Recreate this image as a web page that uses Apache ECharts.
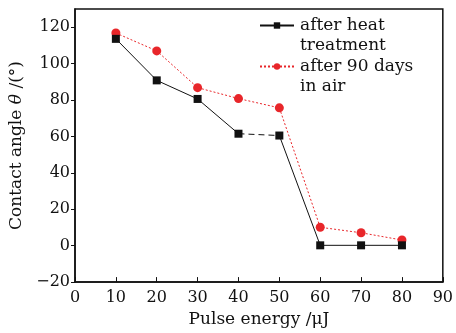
<!DOCTYPE html>
<html>
<head>
<meta charset="utf-8">
<script src="https://cdn.jsdelivr.net/npm/echarts@6/dist/echarts.min.js"></script>
<style>
  html, body { margin: 0; padding: 0; background: #fff; }
  #main { width: 456px; height: 333px; }
</style>
</head>
<body>
<div id="main"></div>
<script>
// pulse energy (μJ) and contact angles
const energy = [10, 20, 30, 40, 50, 60, 70, 80];
const heatTreatment = [113.6, 90.8, 80.6, 61.5, 60.5, 0.2, 0.2, 0.2];
const after90Days = [116.8, 107, 86.8, 80.8, 75.7, 10.1, 7.1, 3.1];
const yTicks = [-20, 0, 20, 40, 60, 80, 100, 120];

const serif = "DejaVu Serif";
const black = "#111";
const red = "#e8262a";

const chart = echarts.init(document.getElementById("main"));

// black curve is drawn solid except the 40-50 segment, which is dashed
const heatSolid = [];
energy.forEach((x, i) => {
  heatSolid.push([x, heatTreatment[i]]);
  if (x === 40) heatSolid.push([45, "-"]); // break the solid line here
});
const heatDashed = [3, 4].map((i) => [energy[i], heatTreatment[i]]);

const option = {
  animation: false,
  grid: {
    left: 75,
    right: 13,
    top: 9,
    bottom: 50,
    show: true,
    borderColor: black,
    borderWidth: 1.5,
  },
  legend: {
    orient: "vertical",
    left: 259,
    top: 17,
    padding: 0,
    itemWidth: 34,
    itemHeight: 8,
    itemGap: 24,
    data: ["after heat", "after 90 days"],
    textStyle: { fontFamily: serif, fontSize: 17, color: black, padding: [0, 0, 0, 1] },
  },
  graphic: [
    { type: "text", left: 300, top: 37, style: { text: "treatment", font: "17px " + serif, fill: black } },
    { type: "text", left: 300, top: 78, style: { text: "in air", font: "17px " + serif, fill: black } },
  ],
  xAxis: {
    type: "value",
    min: 0,
    max: 90,
    interval: 10,
    name: "Pulse energy /μJ",
    nameLocation: "middle",
    nameGap: 28,
    nameTextStyle: { fontFamily: serif, fontSize: 17, color: black },
    axisLine: { onZero: false, lineStyle: { color: black, width: 1.5 } },
    axisTick: { inside: true, length: 5, lineStyle: { color: black } },
    axisLabel: { fontFamily: serif, fontSize: 16, color: black, margin: 8 },
    splitLine: { show: false },
  },
  yAxis: {
    type: "value",
    min: -20,
    max: 130,
    name: "{a|Contact angle }{i|θ}{a| /(°)}",
    nameLocation: "middle",
    nameGap: 44,
    nameTextStyle: {
      rich: {
        a: { fontFamily: serif, fontSize: 17, color: black },
        i: { fontFamily: serif, fontSize: 17, fontStyle: "italic", color: black },
      },
    },
    axisLine: { lineStyle: { color: black, width: 1.5 } },
    axisTick: { length: 4, customValues: yTicks, lineStyle: { color: black } },
    axisLabel: {
      fontFamily: serif,
      fontSize: 16,
      color: black,
      margin: 5,
      customValues: yTicks,
      formatter: (v) => String(v).replace("-", "\u2212"),
    },
    splitLine: { show: false },
  },
  series: [
    {
      name: "after heat",
      type: "line",
      data: heatSolid,
      symbol: "rect",
      symbolSize: 8,
      itemStyle: { color: black },
      lineStyle: { color: black, width: 1 },
      z: 3,
    },
    {
      type: "line",
      data: heatDashed,
      symbol: "none",
      lineStyle: { color: black, width: 1, type: [6, 4] },
      z: 3,
    },
    {
      name: "after 90 days",
      type: "line",
      data: energy.map((x, i) => [x, after90Days[i]]),
      symbol: "circle",
      symbolSize: 9,
      itemStyle: { color: red },
      lineStyle: { color: red, width: 1, type: [2, 2] },
      z: 2,
    },
  ],
};

chart.setOption(option);
</script>
</body>
</html>
